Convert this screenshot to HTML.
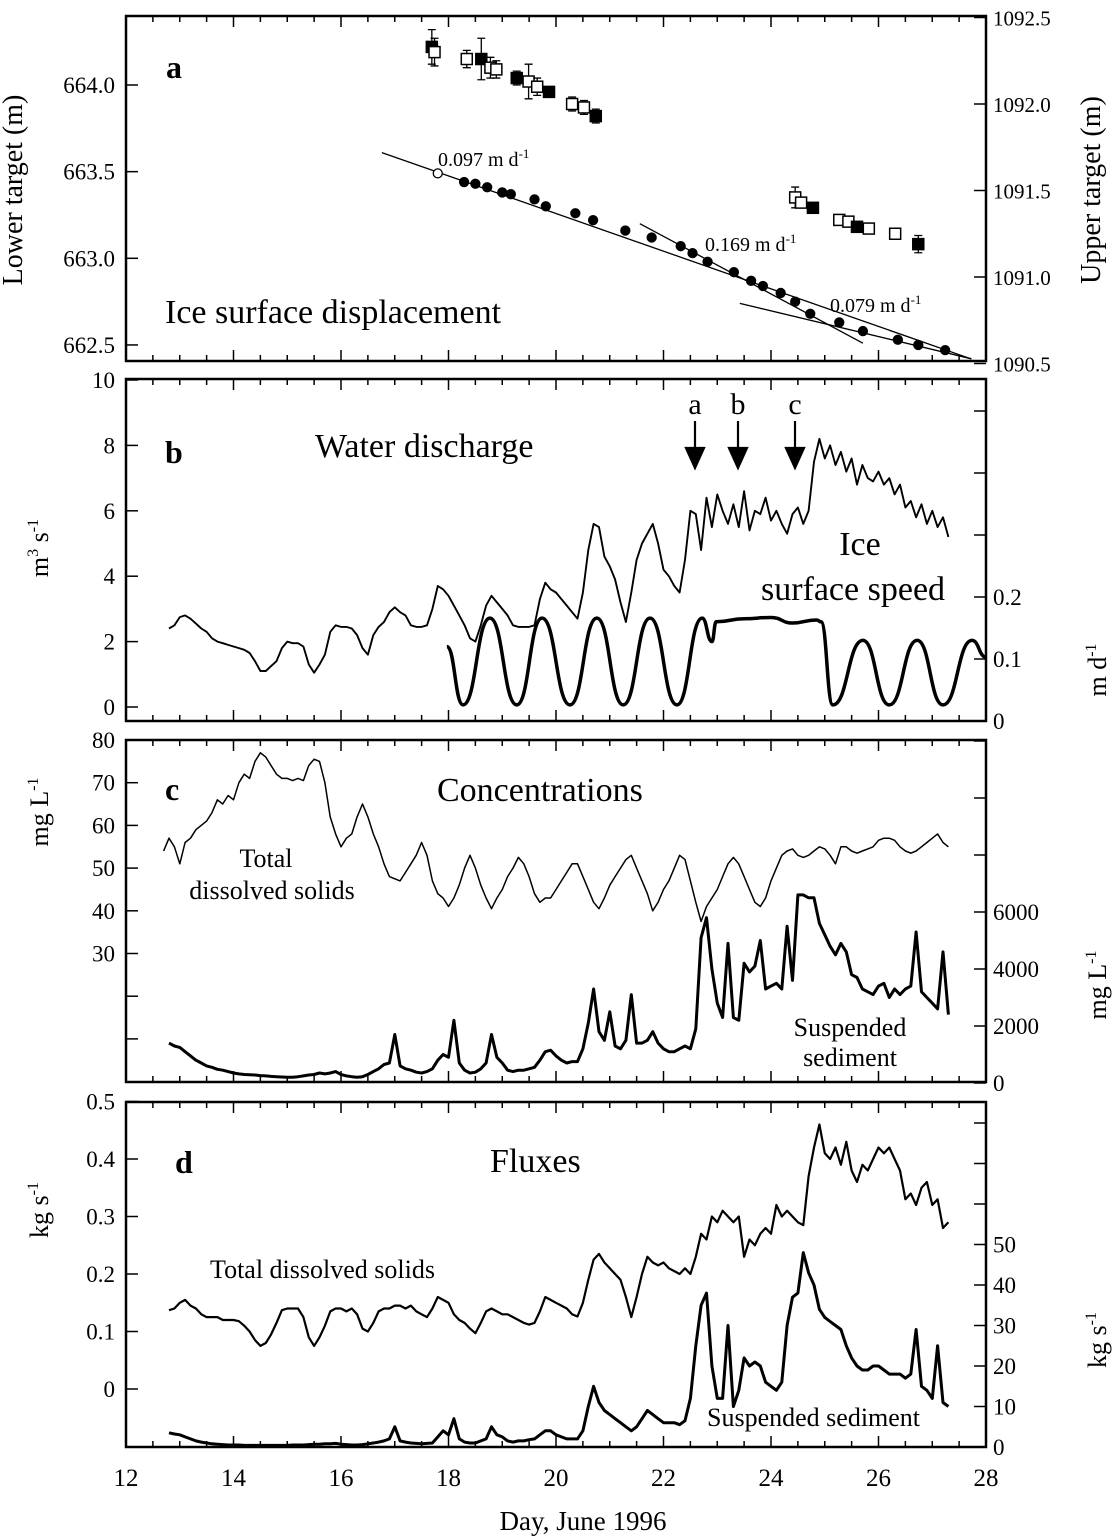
<!DOCTYPE html>
<html><head><meta charset="utf-8"><style>
html,body{margin:0;padding:0;background:#fff;}
svg{display:block;font-family:"Liberation Serif","DejaVu Serif",serif;}
</style></head><body>
<svg id="fig" width="1120" height="1538" viewBox="0 0 1120 1538" xmlns="http://www.w3.org/2000/svg">
<g id="static" fill="#000">
<text x="22" y="190" font-size="28" transform="rotate(-90 22 190)" text-anchor="middle">Lower target (m)</text>
<text x="1100" y="190" font-size="28" transform="rotate(-90 1100 190)" text-anchor="middle">Upper target (m)</text>
<text x="48" y="548" font-size="26" transform="rotate(-90 48 548)" text-anchor="middle">m<tspan font-size="16" dy="-10">3</tspan><tspan dy="10"> s</tspan><tspan font-size="16" dy="-10">-1</tspan></text>
<text x="1106" y="670" font-size="26" transform="rotate(-90 1106 670)" text-anchor="middle">m d<tspan font-size="16" dy="-10">-1</tspan></text>
<text x="48" y="812" font-size="26" transform="rotate(-90 48 812)" text-anchor="middle">mg L<tspan font-size="16" dy="-10">-1</tspan></text>
<text x="1106" y="985" font-size="26" transform="rotate(-90 1106 985)" text-anchor="middle">mg L<tspan font-size="16" dy="-10">-1</tspan></text>
<text x="48" y="1210" font-size="26" transform="rotate(-90 48 1210)" text-anchor="middle">kg s<tspan font-size="16" dy="-10">-1</tspan></text>
<text x="1106" y="1340" font-size="26" transform="rotate(-90 1106 1340)" text-anchor="middle">kg s<tspan font-size="16" dy="-10">-1</tspan></text>
<text x="583" y="1530" font-size="27" text-anchor="middle">Day, June 1996</text>

<text x="166" y="78" font-size="32" font-weight="bold">a</text>
<text x="165" y="323" font-size="34">Ice surface displacement</text>
<text x="438" y="166" font-size="20">0.097 m d<tspan font-size="13" dy="-8">-1</tspan></text>
<text x="705" y="251" font-size="20">0.169 m d<tspan font-size="13" dy="-8">-1</tspan></text>
<text x="830" y="312" font-size="20">0.079 m d<tspan font-size="13" dy="-8">-1</tspan></text>

<text x="165" y="463" font-size="32" font-weight="bold">b</text>
<text x="315" y="457" font-size="34">Water discharge</text>
<text x="695" y="414" font-size="30" text-anchor="middle">a</text>
<text x="738" y="414" font-size="30" text-anchor="middle">b</text>
<text x="795" y="414" font-size="30" text-anchor="middle">c</text>
<text x="860" y="555" font-size="34" text-anchor="middle">Ice</text>
<text x="853" y="600" font-size="34" text-anchor="middle">surface speed</text>

<text x="165" y="800" font-size="32" font-weight="bold">c</text>
<text x="437" y="801" font-size="34">Concentrations</text>
<text x="266" y="867" font-size="26" text-anchor="middle">Total</text>
<text x="272" y="899" font-size="26" text-anchor="middle">dissolved solids</text>
<text x="850" y="1036" font-size="26" text-anchor="middle">Suspended</text>
<text x="850" y="1066" font-size="26" text-anchor="middle">sediment</text>

<text x="175" y="1173" font-size="32" font-weight="bold">d</text>
<text x="490" y="1172" font-size="34">Fluxes</text>
<text x="210" y="1278" font-size="26">Total dissolved solids</text>
<text x="707" y="1426" font-size="26">Suspended sediment</text>
</g>
</svg>
<script>
// ---------- data ----------
const q0 = 12.8; // first day of 0.1-day series
const discharge = [2.4,2.5,2.75,2.8,2.7,2.55,2.4,2.3,2.1,2.0,1.95,1.9,1.85,1.8,1.75,1.65,1.4,1.1,1.1,1.25,1.4,1.8,2.0,1.95,1.95,1.85,1.3,1.05,1.3,1.6,2.3,2.5,2.45,2.45,2.4,2.2,1.8,1.6,2.2,2.45,2.6,2.9,3.05,2.9,2.8,2.5,2.45,2.45,2.5,3.0,3.7,3.6,3.4,3.1,2.8,2.5,2.1,2.0,2.5,3.1,3.4,3.2,3.0,2.8,2.5,2.45,2.45,2.45,2.5,3.3,3.8,3.6,3.5,3.3,3.1,2.9,2.7,3.5,4.8,5.6,5.5,4.6,4.3,3.9,3.2,2.6,3.5,4.5,5.0,5.3,5.6,5.0,4.2,4.0,3.7,3.5,4.5,6.0,5.9,4.8,6.4,5.5,6.5,6.0,5.6,6.2,5.5,6.6,5.4,6.0,5.9,6.4,5.7,6.0,5.6,5.3,5.9,6.1,5.6,6.0,7.5,8.2,7.6,8.0,7.4,7.8,7.2,7.6,6.8,7.4,7.0,6.9,7.2,6.8,7.0,6.5,6.8,6.1,6.3,5.8,6.2,5.6,6.0,5.5,5.8,5.2];
const tdsStart = 12.7;
const tdsConc = [54,57,55,51,56,57,59,60,61,63,66,65,67,66,70,72,71,75,77,76,74,72,71,71,70.5,71,70.5,74,75.5,75,70,62,58,55,57,58,62,65,62,58,55,51,48,47.5,47,49,51,53,56,53,47,44,43,41,43,46,50,53,50,46,43,40.5,43,45,48,50,52.5,51,48,44,42,43,43,45,47,49,51,51,48,45,42,40.5,43,46,48,50,52,53,50,47,44,40,42,45,47,50,53,52,47,42,37.5,41,43,45,48,51,52.5,51,48,45,42,41,43,47,50,53,54,54.5,53,52.5,53,54,55,54.5,53,51,55,55,54,53.5,54,54.5,55,56.5,57,57,56.5,55,54,53.5,54,55,56,57,58,56,55];
const sscConc = [1400,1300,1250,1100,950,800,700,600,550,480,450,400,350,320,300,290,280,260,250,230,220,210,200,200,220,250,280,300,350,320,350,400,300,250,220,200,220,300,400,500,650,700,1700,600,500,450,380,350,400,500,800,1000,900,2200,700,450,350,380,500,700,1700,900,700,450,400,450,450,500,550,800,1100,1150,950,800,700,750,750,1200,2100,3300,1800,1500,2500,1300,1200,1500,3100,1400,1400,1500,1800,1400,1200,1100,1100,1200,1300,1200,1900,5100,5800,4000,2800,2300,4900,2300,2200,4200,3900,4100,5000,3300,3400,3500,3300,5500,3600,6600,6600,6500,6500,5600,5200,4800,4500,4900,4600,3800,3700,3300,3200,3100,3400,3500,3000,3300,3100,3300,3400,5300,3200,3000,2800,2600,4600,2400];
const tdsFlux = [0.137,0.14,0.15,0.155,0.145,0.14,0.13,0.125,0.125,0.125,0.12,0.12,0.12,0.118,0.11,0.1,0.085,0.075,0.08,0.095,0.115,0.137,0.14,0.14,0.14,0.125,0.09,0.075,0.09,0.11,0.135,0.14,0.14,0.135,0.14,0.13,0.105,0.1,0.115,0.135,0.14,0.14,0.145,0.145,0.14,0.145,0.135,0.13,0.125,0.14,0.16,0.155,0.15,0.13,0.12,0.115,0.105,0.097,0.115,0.135,0.14,0.135,0.13,0.13,0.125,0.12,0.115,0.112,0.115,0.135,0.16,0.155,0.15,0.145,0.14,0.13,0.126,0.15,0.19,0.225,0.235,0.22,0.21,0.2,0.19,0.16,0.125,0.16,0.2,0.23,0.22,0.215,0.22,0.21,0.205,0.2,0.21,0.2,0.23,0.27,0.26,0.3,0.29,0.31,0.3,0.29,0.3,0.23,0.26,0.25,0.27,0.28,0.27,0.32,0.3,0.31,0.3,0.29,0.285,0.37,0.42,0.46,0.41,0.4,0.42,0.39,0.43,0.38,0.36,0.39,0.38,0.4,0.42,0.41,0.42,0.4,0.38,0.33,0.34,0.32,0.35,0.36,0.32,0.33,0.28,0.29];
const ssFlux = [3.5,3.2,3,2.5,2,1.5,1.2,1,0.8,0.7,0.6,0.5,0.5,0.5,0.4,0.4,0.4,0.4,0.4,0.4,0.4,0.4,0.4,0.5,0.5,0.5,0.6,0.7,0.7,0.8,0.8,0.9,0.7,0.6,0.5,0.5,0.6,0.8,1,1.2,1.5,2,5,1.5,1.2,1,0.9,0.8,0.9,1,2.5,4,3,7,2,1.2,1,1,1.5,2,5,3,2.5,1.5,1.2,1.5,1.5,1.8,2,3,4,4,3,2.5,2,2,2,4,10,15,11,9,8,7,6,5,4,5,7,9,8,7,6,6,6,5.5,6.5,12,25,35,38,20,12,12,30,10,14,22,20,21,20,16,15,14,16,30,37,38,48,43,40,34,32,31,30,29,25,22,20,19,19,20,20,19,18,18,18,17,18,29,15,14,12,25,11,10];
// ice speed extrema (day, m/d)
const speedDays = [17.97,18.27,18.77,19.27,19.74,20.26,20.76,21.25,21.75,22.25,22.72,22.9,22.98,23.5,24.0,24.4,24.85,24.93,25.15,25.71,26.2,26.72,27.2,27.74,28.0];
const speedVals = [0.12,0.026,0.166,0.026,0.166,0.026,0.166,0.026,0.166,0.026,0.166,0.128,0.16,0.165,0.167,0.158,0.163,0.16,0.026,0.13,0.026,0.13,0.026,0.13,0.103];
// panel a: lower target (day, m)
const lowerDays = [17.8,18.29,18.5,18.72,19.0,19.16,19.6,19.81,20.36,20.69,21.29,21.78,22.32,22.54,22.82,23.31,23.63,23.85,24.18,24.45,24.73,25.27,25.71,26.36,26.74,27.24];
const lowerVals = [663.49,663.44,663.43,663.41,663.38,663.37,663.34,663.30,663.26,663.22,663.16,663.12,663.07,663.03,662.98,662.92,662.87,662.84,662.80,662.75,662.68,662.63,662.58,662.53,662.50,662.47];
const upperDays = [17.69,17.74,18.34,18.61,18.78,18.89,19.27,19.49,19.65,19.87,20.3,20.52,20.74,24.45,24.56,24.78,25.27,25.44,25.6,25.82,26.31,26.74];
const upperVals = [1092.33,1092.3,1092.26,1092.26,1092.21,1092.2,1092.15,1092.13,1092.1,1092.07,1092.0,1091.98,1091.93,1091.46,1091.43,1091.4,1091.33,1091.32,1091.29,1091.28,1091.25,1091.19];
const upperErr = [0.1,0.08,0.05,0.12,0.06,0.05,0.04,0.1,0.05,0.03,0.04,0.04,0.04,0.06,0.03,0.02,0.02,0.02,0.02,0.02,0.02,0.05];
const fitDays0 = [16.76,21.56,23.42];
const fitDays1 = [27.72,25.71,27.73];
const fitVals0 = [663.61,663.2,662.74];
const fitVals1 = [662.42,662.51,662.42];
const xTicks = [12,14,16,18,20,22,24,26,28];

// ---------- scales ----------
const X = d => 126 + (d - 12) * 53.75;
const yLow = v => 85 + (664 - v) * 173.3;
const yUp = v => 104 + (1092 - v) * 173;
const yQ = v => 707 - v * 32.7;
const ySp = v => 721 - v * 620;
const yTds = v => 740 + (80 - v) * 4.27;
const ySsc = v => 1083 - v * 0.0285;
const yTf = v => 1389 - v * 575;
const ySf = v => 1447 - v * 4.05;

const svg = document.getElementById('fig');
const NS = 'http://www.w3.org/2000/svg';
function mk(tag, attrs) { const e = document.createElementNS(NS, tag); for (const k in attrs) e.setAttribute(k, attrs[k]); svg.appendChild(e); return e; }

function series(arr, start, yf, w, name) {
  let d = '';
  arr.forEach((v, i) => { d += (i ? 'L' : 'M') + X(start + i * 0.1).toFixed(1) + ',' + yf(v).toFixed(1); });
  const p = mk('path', {d: d, fill: 'none', stroke: '#000', 'stroke-width': w, 'stroke-linejoin': 'round'});
  
  
}

// panels
const panels = [[16,361,'panel-a'],[379,721,'panel-b'],[740,1082,'panel-c'],[1102,1447,'panel-d']];
panels.forEach(pn => {
  const r = mk('rect', {x: 126, y: pn[0], width: 860, height: pn[1]-pn[0], fill: 'none', stroke: '#000', 'stroke-width': 2.5});
  
  
  for (let d = 12; d <= 28; d += 0.5) {
    const maj = Math.abs(d % 2) < 0.01;
    const len = maj ? 11 : 6;
    const t1 = mk('line', {x1: X(d), x2: X(d), y1: pn[1], y2: pn[1]-len, stroke: '#000', 'stroke-width': 1.5});
    
    
    const t2 = mk('line', {x1: X(d), x2: X(d), y1: pn[0], y2: pn[0]+len, stroke: '#000', 'stroke-width': 1.5});
    
    
  }
});
xTicks.forEach(d => {
  const t = mk('text', {x: X(d), y: 1486, 'font-size': 25, 'text-anchor': 'middle', fill: '#000'});
  t.textContent = d;
  
  
});

function yTicks(vals, labels, yf, side, name, fs) {
  vals.forEach((v, i) => {
    const y = yf(v);
    const x0 = side === 'l' ? 126 : 986;
    const x1 = side === 'l' ? 138 : 974;
    const l = mk('line', {x1: x0, x2: x1, y1: y, y2: y, stroke: '#000', 'stroke-width': 1.5});
    
    
    if (labels[i] !== '') {
      const t = mk('text', {x: side === 'l' ? 115 : 993, y: y + 8, 'font-size': fs || 23, 'text-anchor': side === 'l' ? 'end' : 'start', fill: '#000'});
      t.textContent = labels[i];
      
      
    }
  });
}
yTicks([664,663.5,663,662.5], ['664.0','663.5','663.0','662.5'], yLow, 'l', 'lower-target');
yTicks([1092.5,1092,1091.5,1091,1090.5], ['1092.5','1092.0','1091.5','1091.0','1090.5'], yUp, 'r', 'upper-target', 21);
yTicks([10,8,6,4,2,0], ['10','8','6','4','2','0'], yQ, 'l', 'discharge');
yTicks([0.5,0.4,0.3,0.2,0.1,0], ['','','','0.2','0.1','0'], ySp, 'r', 'speed');
yTicks([80,70,60,50,40,30,20,10], ['80','70','60','50','40','30','',''], yTds, 'l', 'tds-conc');
yTicks([12000,10000,8000,6000,4000,2000,0], ['','','','6000','4000','2000','0'], ySsc, 'r', 'ssc');
yTicks([0.5,0.4,0.3,0.2,0.1,0], ['0.5','0.4','0.3','0.2','0.1','0'], yTf, 'l', 'tds-flux');
yTicks([80,70,60,50,40,30,20,10,0], ['','','','50','40','30','20','10','0'], ySf, 'r', 'ss-flux');

// panel a
for (let i = 0; i < fitDays0.length; i++) {
  const l = mk('line', {x1: X(fitDays0[i]), y1: yLow(fitVals0[i]), x2: X(fitDays1[i]), y2: yLow(fitVals1[i]), stroke: '#000', 'stroke-width': 1.3});
  
  
}
lowerDays.forEach((d, i) => {
  const c = mk('circle', {cx: X(d), cy: yLow(lowerVals[i]), r: 4.5, fill: i < 1 ? '#fff' : '#000', stroke: '#000', 'stroke-width': 1.3});
  
  
});
upperDays.forEach((d, i) => {
  const x = X(d), y = yUp(upperVals[i]), e = upperErr[i] * 173;
  const eb = mk('path', {d: `M${x},${y-e}V${y+e}M${x-4},${y-e}H${x+4}M${x-4},${y+e}H${x+4}`, stroke: '#000', 'stroke-width': 1.3, fill: 'none'});
  
  
  const s = mk('rect', {x: x-5.5, y: y-5.5, width: 11, height: 11, fill: i % 3 === 0 ? '#000' : '#fff', stroke: '#000', 'stroke-width': 1.5});
  
  
});

// panel b
series(discharge, q0, yQ, 1.9, 'discharge-line');
let sd = 'M' + X(speedDays[0]) + ',' + ySp(speedVals[0]);
for (let i = 1; i < speedDays.length; i++) {
  const x0 = X(speedDays[i-1]), y0 = ySp(speedVals[i-1]), x1 = X(speedDays[i]), y1 = ySp(speedVals[i]);
  const h = (x1 - x0) / 2;
  sd += `C${x0+h},${y0} ${x1-h},${y1} ${x1},${y1}`;
}
const sp = mk('path', {d: sd, fill: 'none', stroke: '#000', 'stroke-width': 3.5});


[695, 738, 795].forEach(x => {
  const a = mk('path', {d: `M${x},421V466M${x-9},448L${x},468L${x+9},448Z`, stroke: '#000', 'stroke-width': 2.2, fill: '#000'});
  
  
});

// panel c
series(tdsConc, tdsStart, yTds, 1.5, 'tds-concentration-line');
series(sscConc, q0, ySsc, 3, 'ssc-line');

// panel d
series(tdsFlux, q0, yTf, 2.2, 'tds-flux-line');
series(ssFlux, q0, ySf, 3, 'ss-flux-line');
</script>
</body></html>
